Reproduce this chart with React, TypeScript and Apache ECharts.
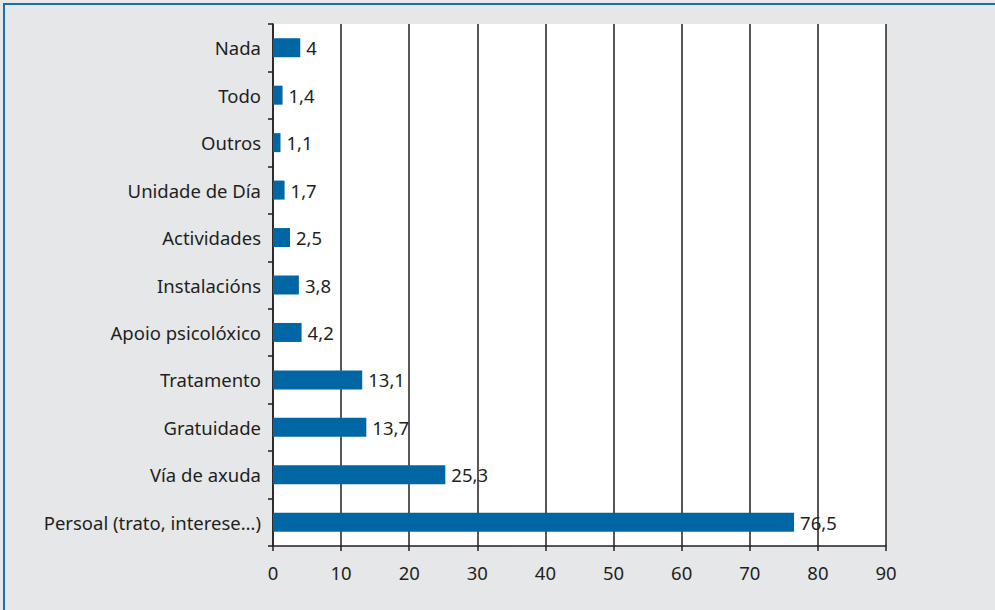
import React, { useEffect, useRef } from "react";
import * as echarts from "echarts";

const categories = [
  "Persoal (trato, interese…)",
  "Vía de axuda",
  "Gratuidade",
  "Tratamento",
  "Apoio psicolóxico",
  "Instalacións",
  "Actividades",
  "Unidade de Día",
  "Outros",
  "Todo",
  "Nada",
];
const values = [76.5, 25.3, 13.7, 13.1, 4.2, 3.8, 2.5, 1.7, 1.1, 1.4, 4];

export default function App() {
  const ref = useRef<HTMLDivElement>(null);
  useEffect(() => {
    if (!ref.current) return;
    const chart = echarts.init(ref.current, null, { renderer: "svg" });
    const font = "Noto Sans";
    const fs = 18.5;
    chart.setOption({
      animation: false,
      backgroundColor: "#e6e7e8",
      textStyle: { fontFamily: font },
      grid: {
        left: 273,
        right: 109,
        top: 24,
        bottom: 64,
        show: true,
        backgroundColor: "#ffffff",
        borderWidth: 0,
      },
      xAxis: {
        type: "value",
        min: 0,
        max: 90,
        interval: 10,
        axisLine: { show: true, lineStyle: { color: "#231f20", width: 1.5 } },
        axisTick: { show: true, length: 5, lineStyle: { color: "#231f20", width: 1.5 } },
        splitLine: { show: true, lineStyle: { color: "#231f20", width: 1.5 } },
        axisLabel: { color: "#231f20", fontSize: fs, fontFamily: font, margin: 17 },
      },
      yAxis: {
        type: "category",
        data: categories,
        axisLine: { show: true, lineStyle: { color: "#231f20", width: 1.5 } },
        axisTick: { show: true, length: 5, lineStyle: { color: "#231f20", width: 1.5 } },
        axisLabel: { color: "#231f20", fontSize: fs, fontFamily: font, margin: 12 },
      },
      series: [
        {
          type: "bar",
          data: values,
          barWidth: 19,
          itemStyle: { color: "#0066a4" },
          label: {
            show: true,
            position: "right",
            distance: 6,
            color: "#231f20",
            fontSize: fs,
            fontFamily: font,
            formatter: (p: any) => String(p.value).replace(".", ","),
          },
        },
      ],
      graphic: [
        { type: "rect", shape: { x: 3, y: 3, width: 992, height: 2 }, style: { fill: "#1a70aa" } },
        { type: "rect", shape: { x: 3, y: 3, width: 2, height: 607 }, style: { fill: "#1a70aa" } },
      ],
    });
    return () => chart.dispose();
  }, []);
  return (
    <div
      ref={ref}
      style={{ position: "absolute", left: 0, top: 0, width: 995, height: 610 }}
    />
  );
}
